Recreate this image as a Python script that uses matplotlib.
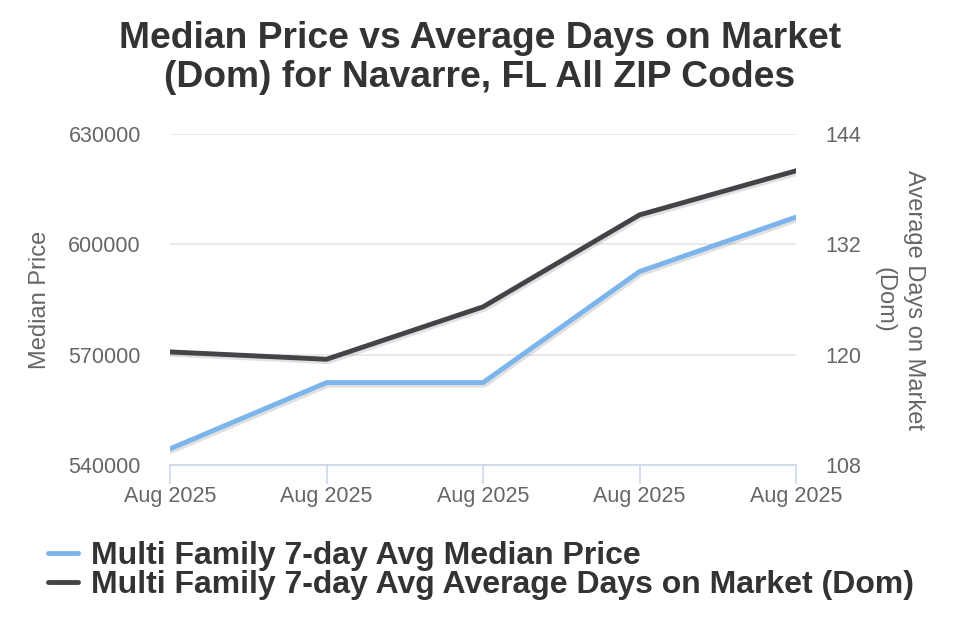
"""Median price vs average days on market, Navarre FL."""
import matplotlib
matplotlib.use("Agg")
import matplotlib.pyplot as plt
import matplotlib.patheffects as pe

plt.rcParams["font.family"] = ["Liberation Sans", "DejaVu Sans"]

DATES = ["Aug 2025", "Aug 2025", "Aug 2025", "Aug 2025", "Aug 2025"]
MEDIAN_PRICE = [544400, 562400, 562400, 592600, 607400]
AVG_DOM = [120.3, 119.5, 125.2, 135.2, 140.0]

PRICE_TICKS = [540000, 570000, 600000, 630000]
DOM_TICKS = [108, 120, 132, 144]

BLUE = "#7cb5ec"
DARK = "#434348"
TEXT = "#333333"
TICK = "#666666"

shadow = [pe.SimpleLineShadow(offset=(1, -1), shadow_color="black", alpha=0.12, linewidth=5), pe.Normal()]

fig = plt.figure(figsize=(9.6, 6.4), dpi=100)
ax = fig.add_axes([170 / 960, 175 / 640, 626 / 960, 331 / 640])
ax2 = ax.twinx()

x = list(range(len(DATES)))
ax.plot(x, MEDIAN_PRICE, color=BLUE, lw=3.5, solid_capstyle="round", path_effects=shadow, zorder=3)
ax2.plot(x, AVG_DOM, color=DARK, lw=3.5, solid_capstyle="round", path_effects=shadow, zorder=3)

ax.set_xlim(0, len(DATES) - 1)
ax.set_ylim(PRICE_TICKS[0], PRICE_TICKS[-1])
ax2.set_ylim(DOM_TICKS[0], DOM_TICKS[-1])
ax.set_yticks(PRICE_TICKS)
ax.set_yticklabels([str(v) for v in PRICE_TICKS])
ax2.set_yticks(DOM_TICKS)
ax2.set_yticklabels([str(v) for v in DOM_TICKS])
ax.set_xticks(x)
ax.set_xticklabels(DATES)

ax.grid(axis="y", color="#e6e6e6", lw=1.2)
ax.set_axisbelow(True)
for a in (ax, ax2):
    for s in a.spines.values():
        s.set_visible(False)
ax.spines["bottom"].set_visible(True)
ax.spines["bottom"].set_color("#ccd6eb")
ax.spines["bottom"].set_linewidth(1.2)

ax.tick_params(axis="y", length=0, labelsize=15.5, labelcolor=TICK, pad=21)
ax2.tick_params(axis="y", length=0, labelsize=15.5, labelcolor=TICK, pad=21)
ax.tick_params(axis="x", length=13.7, width=1.2, color="#ccd6eb", labelsize=15.5, labelcolor=TICK, pad=1.5)
ax2.tick_params(axis="x", length=0)

ax.set_ylabel("Median Price", fontsize=17, color=TICK, va="center")
ax.yaxis.set_label_coords((40 - 170) / 626, 0.5)
ax2.set_ylabel("Average Days on Market\n(Dom)", fontsize=17, color=TICK, rotation=270,
               linespacing=1.45, va="center", ha="center")
ax2.yaxis.set_label_coords((899 - 170) / 626, 0.5)

fig.text(0.5, 1 - 21 / 640,
         "Median Price vs Average Days on Market\n(Dom) for Navarre, FL All ZIP Codes",
         fontsize=26.8, fontweight="bold", color=TEXT, ha="center", va="top", linespacing=1.16)

handles = [plt.Line2D([], [], color=BLUE, lw=3.5, solid_capstyle="round"),
           plt.Line2D([], [], color=DARK, lw=3.5, solid_capstyle="round")]
labels = ["Multi Family 7-day Avg Median Price",
          "Multi Family 7-day Avg Average Days on Market (Dom)"]
leg = fig.legend(handles, labels, loc="upper left", bbox_to_anchor=(48 / 960, 1 - 541 / 640),
                 frameon=False, handlelength=0.94, handletextpad=0.4, labelspacing=-0.03,
                 borderpad=0, borderaxespad=0, prop={"size": 23, "weight": "bold"})
for t in leg.get_texts():
    t.set_color(TEXT)

fig.savefig("out.png", dpi=100)
